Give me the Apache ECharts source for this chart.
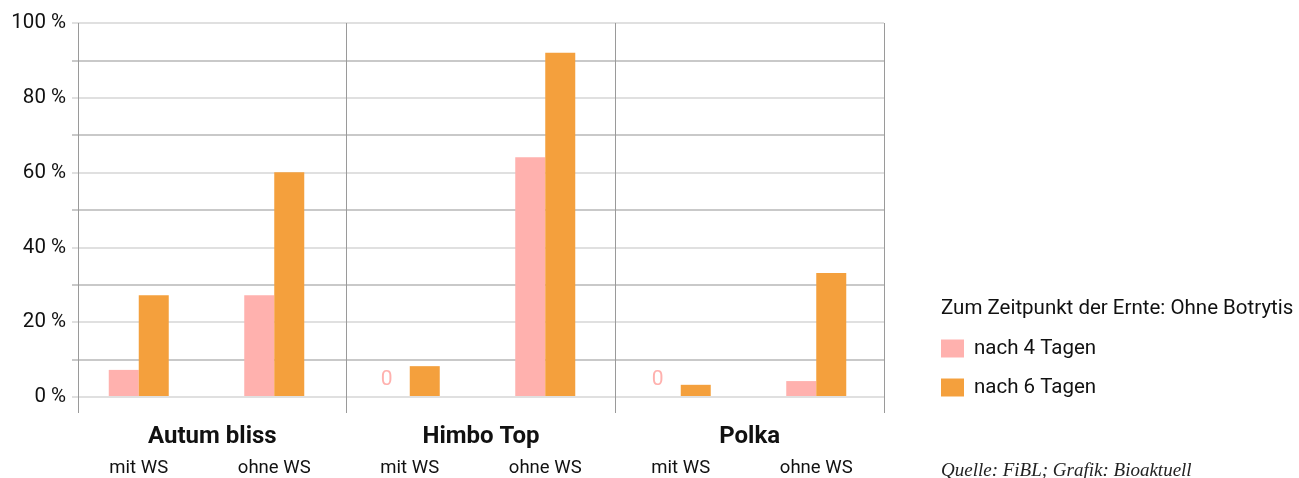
<!DOCTYPE html>
<html>
<head>
<meta charset="utf-8">
<script src="https://cdn.jsdelivr.net/npm/echarts@6/dist/echarts.min.js"></script>
<style>
  html, body { margin: 0; padding: 0; background: #fff; }
  #chart { width: 1299px; height: 478px; }
</style>
</head>
<body>
<div id="chart"></div>
<script>
// Varieties and treatments
const varieties = ['Autum bliss', 'Himbo Top', 'Polka'];
const treatments = ['mit WS', 'ohne WS'];
// Share of fruit without Botrytis (%), one value per variety × treatment
const after4Days = [7, 27, 0, 64, 0, 4];
const after6Days = [27, 60, 8, 92, 3, 33];
const seriesNames = ['nach 4 Tagen', 'nach 6 Tagen'];
const legendTitle = 'Zum Zeitpunkt der Ernte: Ohne Botrytis';
const sourceNote = 'Quelle: FiBL; Grafik: Bioaktuell';

const FONT = 'Roboto, "Noto Sans", sans-serif';
const PINK = '#ffb1ae';
const ORANGE = '#f4a03d';

const subCategories = [];
varieties.forEach(() => treatments.forEach(t => subCategories.push(t)));

// Zero values get a printed "0" instead of an invisible bar
function withZeroLabels(values, color) {
  return values.map(v => v === 0
    ? { value: v, label: { show: true, position: 'top', distance: 6, offset: [-8, 0],
        formatter: '0', color: color, fontSize: 21, fontFamily: FONT } }
    : v);
}

const chart = echarts.init(document.getElementById('chart'));
chart.setOption({
  animation: false,
  grid: [
    // frame: value gridlines and variety separators
    { left: 78, right: 415, top: 23, bottom: 81 },
    // bars and treatment labels
    { left: 71, right: 415, top: 23, bottom: 81 }
  ],
  xAxis: [
    {
      type: 'category',
      gridIndex: 0,
      data: varieties,
      axisLine: { show: false },
      axisTick: { show: true, length: 16, lineStyle: { color: '#9a9a9a', width: 1 } },
      splitLine: { show: true, lineStyle: { color: '#9a9a9a', width: 1 } },
      axisLabel: { margin: 28, fontSize: 24, fontWeight: 'bold', color: '#111', fontFamily: FONT }
    },
    {
      type: 'category',
      gridIndex: 1,
      data: subCategories,
      axisLine: { show: false },
      axisTick: { show: false },
      axisLabel: { margin: 63, fontSize: 18.5, color: '#111', fontFamily: FONT }
    }
  ],
  yAxis: [
    {
      type: 'value',
      gridIndex: 0,
      min: 0, max: 100, interval: 20,
      axisLine: { show: false },
      axisTick: { show: true, length: 6, lineStyle: { color: '#e0e0e0', width: 2 } },
      minorTick: { show: true, splitNumber: 2, length: 6, lineStyle: { color: '#c9c9c9', width: 2 } },
      splitLine: { show: true, lineStyle: { color: '#e0e0e0', width: 2 } },
      minorSplitLine: { show: true, lineStyle: { color: '#c9c9c9', width: 2 } },
      axisLabel: { formatter: '{value} %', fontSize: 20.5, color: '#111', margin: 12, fontFamily: FONT }
    },
    {
      type: 'value',
      gridIndex: 1,
      min: 0, max: 100, interval: 20,
      show: false
    }
  ],
  legend: {
    orient: 'vertical',
    left: 941, top: 338, padding: 0,
    itemWidth: 23, itemHeight: 18, itemGap: 18,
    icon: 'rect',
    textStyle: { fontSize: 20.5, color: '#111', fontFamily: FONT, padding: [0, 0, 0, 5] },
    data: seriesNames
  },
  graphic: [
    { type: 'text', left: 941, top: 298,
      style: { text: legendTitle, fontSize: 20.5, fill: '#111', fontFamily: FONT } },
    { type: 'text', left: 941, top: 461,
      style: { text: sourceNote, fontSize: 19, fontStyle: 'italic', fill: '#222',
               fontFamily: '"Liberation Serif", "DejaVu Serif", serif' } }
  ],
  series: [
    { name: seriesNames[0], type: 'bar', xAxisIndex: 1, yAxisIndex: 1,
      data: withZeroLabels(after4Days, PINK), itemStyle: { color: PINK },
      barWidth: 30, barGap: '0%' },
    { name: seriesNames[1], type: 'bar', xAxisIndex: 1, yAxisIndex: 1,
      data: withZeroLabels(after6Days, ORANGE), itemStyle: { color: ORANGE },
      barWidth: 30, barGap: '0%' }
  ]
});
</script>
</body>
</html>
